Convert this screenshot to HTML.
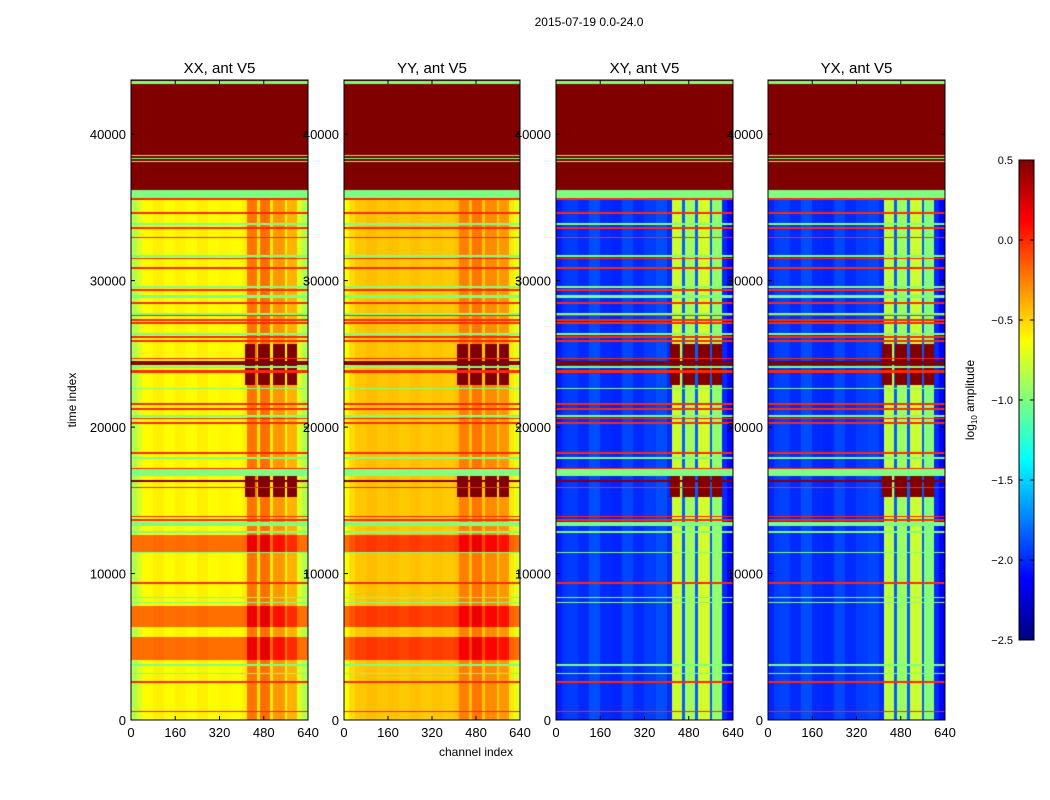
<!DOCTYPE html>
<html><head><meta charset="utf-8">
<style>
body{margin:0;background:#fff;width:1050px;height:800px;overflow:hidden;font-family:"Liberation Sans",sans-serif;}
#wrap{position:relative;width:1050px;height:800px;}
canvas{position:absolute;}
svg{position:absolute;left:0;top:0;}
</style></head>
<body>
<div id="wrap">
<canvas id="p0" width="177" height="640" style="left:131px;top:80px"></canvas>
<canvas id="p1" width="176" height="640" style="left:344px;top:80px"></canvas>
<canvas id="p2" width="177" height="640" style="left:556px;top:80px"></canvas>
<canvas id="p3" width="177" height="640" style="left:768px;top:80px"></canvas>
<canvas id="cb" width="15" height="480" style="left:1019px;top:160px"></canvas>
<svg id="ov" width="1050" height="800"></svg>
</div>
<script>
// ---- data ----
const panelTitles = ["XX, ant V5","YY, ant V5","XY, ant V5","YX, ant V5"];
const panelLeft = [131,344,556,768];
const xTicks = [0,160,320,480,640];
const yTicks = [0,10000,20000,30000,40000];
const cbTicks = [0.5,0.0,-0.5,-1.0,-1.5,-2.0,-2.5];
const tMax = 43700, chMax = 640, vMin = -2.5, vMax = 0.5;
// row events: start time, end time, kind
const rowT0 = [36180,43450,38520,38320,38120, 35630,35520,34540,33820,33560,32880,31640,31500,30820,29520,29320,28800,28430,27660,27560,27270,27070,26320,26110,25840,24680,24620,24230,24060,23690,22620,21540,21200,20720,20520,20240,18190,17850,17160,16650,16250,15810,13830,13620,13240,12800,11400,11380,9320,8300,7960,6350,4100,3720,3110,2560,520];
const rowT1 = [43700,43600,38600,38400,38200, 36180,35620,34700,33920,33660,32980,31720,31580,30900,29600,29400,29010,28530,27760,27640,27350,27150,26400,26190,25920,24750,24700,24500,24140,23900,22700,21620,21280,20800,20600,20320,18270,17930,17240,17130,16400,15890,13910,13700,13520,12880,12630,11440,9400,8380,8040,7780,5670,3800,3190,2650,600];
const rowKind = ["sat","flag","flag","flag","flag","flag","rfi","rfi","flag","rfi","rfi","flag","rfi","rfi","flag","rfi","flag","rfi","flag","rfi","rfi","rfi","flag","rfi","rfi","flag","rfi","sat","flag","rfi","flag","rfi","rfi","flag","rfi","rfi","rfi","flag","rfi","flag","sat","rfi","rfi","rfi","flag","flag","warm","flag","rfi","flag","flag","warm","warm","flag","flag","rfi","rfi"];
// burst intervals (strong emission in band channels)
const burstT0 = [22900,15220];
const burstT1 = [25700,16650];
// channel bands (for bursts)
const bandC0 = [412,460,514,564];
const bandC1 = [450,503,556,600];
// column profiles: segment starts, ends, log10 amplitude
const segC0 = [0,20,40,80,120,160,200,240,280,320,360,400,420,455,465,503,514,556,564,600,620];
const segC1 = [20,40,80,120,160,200,240,280,320,360,400,420,455,465,503,514,556,564,600,620,640];
const xxVals = [-0.85,-0.74,-0.62,-0.58,-0.62,-0.59,-0.62,-0.58,-0.62,-0.6,-0.62,-0.58,-0.22,-0.55,-0.2,-0.58,-0.32,-0.6,-0.4,-0.72,-0.85];
const yyVals = [-0.64,-0.52,-0.46,-0.43,-0.46,-0.44,-0.47,-0.44,-0.47,-0.45,-0.47,-0.44,-0.25,-0.45,-0.22,-0.46,-0.28,-0.48,-0.32,-0.56,-0.7];
const xyVals = [-2.05,-1.97,-1.95,-2.0,-1.9,-2.0,-2.02,-1.92,-2.0,-1.95,-1.9,-2.0,-0.78,-1.85,-0.9,-1.85,-0.75,-1.85,-0.95,-2.0,-2.12];
const yxVals = [-2.02,-1.95,-1.93,-2.0,-1.9,-2.0,-2.02,-1.92,-2.0,-1.95,-1.92,-2.0,-0.82,-1.85,-0.92,-1.85,-0.78,-1.85,-0.98,-2.0,-2.12];
const panelVals = [xxVals,yyVals,xyVals,yxVals];
const panelCopol = [true,true,false,false];

// ---- helpers ----
function jet(v){
  let x=(v-vMin)/(vMax-vMin); x=Math.max(0,Math.min(1,x));
  const c=a=>Math.max(0,Math.min(1,a));
  return [c(1.5-Math.abs(4*x-3))*255,c(1.5-Math.abs(4*x-2))*255,c(1.5-Math.abs(4*x-1))*255];
}
const yScale = t => 720 - t/tMax*640;
function xScale(p,c){return panelLeft[p] + c/chMax*177;}
function colVal(p,c){for(let i=0;i<segC0.length;i++){if(c>=segC0[i]&&c<segC1[i])return panelVals[p][i];}return panelVals[p][panelVals[p].length-1];}
function inBand(c){for(let i=0;i<bandC0.length;i++)if(c>=bandC0[i]&&c<bandC1[i])return true;return false;}
function value(p,t,c){
  let kind=null;
  for(let i=0;i<rowT0.length;i++){ if(t>=rowT0[i]&&t<rowT1[i]){ if(rowKind[i]!=="warm"||!kind) kind=rowKind[i]; } }
  if(kind==="sat") return 0.6;
  if(kind==="flag") return -1.0;
  if(kind==="rfi") return 0.0;
  for(let i=0;i<burstT0.length;i++) if(t>=burstT0[i]&&t<burstT1[i]&&inBand(c)) return 0.6;
  let v=colVal(p,c);
  if(kind==="warm"&&panelCopol[p]) v=Math.max(v+0.4,-0.2);
  return v;
}
for(let p=0;p<4;p++){
  const cv=document.getElementById('p'+p), ctx=cv.getContext('2d');
  const W=cv.width,H=cv.height, img=ctx.createImageData(W,H);
  for(let y=0;y<H;y++){
    const t=(H-y-0.5)/H*tMax;
    for(let x=0;x<W;x++){
      const c=(x+0.5)/W*chMax;
      const col=jet(value(p,t,c));
      const k=(y*W+x)*4; img.data[k]=col[0];img.data[k+1]=col[1];img.data[k+2]=col[2];img.data[k+3]=255;
    }
  }
  ctx.putImageData(img,0,0);
}
{const cv=document.getElementById('cb'),ctx=cv.getContext('2d');
 for(let y=0;y<480;y++){const v=vMax-(y+0.5)/480*(vMax-vMin);const c=jet(v);ctx.fillStyle=`rgb(${c[0]|0},${c[1]|0},${c[2]|0})`;ctx.fillRect(0,y,15,1);}}

// ---- overlay ----
const NS="http://www.w3.org/2000/svg", ov=document.getElementById('ov');
function mk(tag,attrs,text){const e=document.createElementNS(NS,tag);for(const k in attrs)e.setAttribute(k,attrs[k]);if(text!==undefined)e.textContent=text;ov.appendChild(e);return e;}
let e;
e=mk('text',{x:589,y:26,'text-anchor':'middle','font-size':12,fill:'#000'},'2015-07-19 0.0-24.0');


for(let p=0;p<4;p++){
  const x0=panelLeft[p], w=(p===1?176:177);
  e=mk('rect',{x:x0,y:80,width:w,height:640,fill:'none',stroke:'#000','stroke-width':1});
  
  
  e=mk('text',{x:x0+w/2,y:73,'text-anchor':'middle','font-size':15,fill:'#000'},panelTitles[p]);
  
  
  xTicks.forEach(c=>{
    const x=x0+c/chMax*w;
    mk('line',{x1:x,x2:x,y1:720,y2:716,stroke:'#000'});
    mk('line',{x1:x,x2:x,y1:80,y2:84,stroke:'#000'});
    e=mk('text',{x:x,y:737,'text-anchor':'middle','font-size':13,fill:'#000'},String(c));
    
    
  });
  yTicks.forEach(t=>{
    const y=yScale(t);
    mk('line',{x1:x0,x2:x0+4,y1:y,y2:y,stroke:'#000'});
    mk('line',{x1:x0+w,x2:x0+w-4,y1:y,y2:y,stroke:'#000'});
    e=mk('text',{x:x0-5,y:y+5,'text-anchor':'end','font-size':13,fill:'#000'},String(t));
    
    
  });
}
e=mk('text',{x:0,y:0,'text-anchor':'middle','font-size':12,fill:'#000',transform:'translate(76,400) rotate(-90)'},'time index');


e=mk('text',{x:476,y:756,'text-anchor':'middle','font-size':12,fill:'#000'},'channel index');


e=mk('rect',{x:1019,y:160,width:15,height:480,fill:'none',stroke:'#000'});


cbTicks.forEach(v=>{
  const y=160+(vMax-v)/(vMax-vMin)*480;
  mk('line',{x1:1019,x2:1023,y1:y,y2:y,stroke:'#000'});
  mk('line',{x1:1034,x2:1030,y1:y,y2:y,stroke:'#000'});
  e=mk('text',{x:1013,y:y+4,'text-anchor':'end','font-size':11,fill:'#000'},(v<0?'\u2212':'')+Math.abs(v).toFixed(1));
  
  
});
e=mk('text',{x:0,y:0,'text-anchor':'middle','font-size':12,fill:'#000',transform:'translate(974,400) rotate(-90)'});


e.innerHTML='log<tspan font-size="8" dy="3">10</tspan><tspan dy="-3"> amplitude</tspan>';
</script>
</body></html>
